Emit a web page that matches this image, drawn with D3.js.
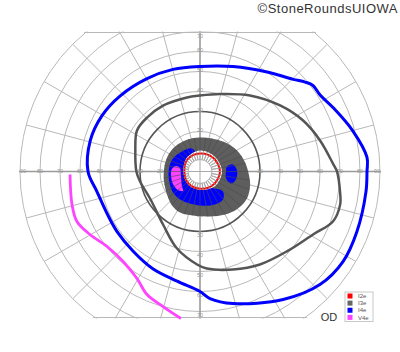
<!DOCTYPE html>
<html>
<head>
<meta charset="utf-8">
<script src="https://cdn.jsdelivr.net/npm/d3@7"></script>
<style>
body { margin: 0; background: #fff; }
svg { display: block; font-family: "Liberation Sans", Arial, sans-serif; }
</style>
</head>
<body>
<script>
// grid
const rings = [10, 20, 30, 40, 50, 60, 70, 80, 90];
const meridians = d3.range(0, 360, 15);
const hLabels = [20, 30, 40, 50, 60, 70, 80, 90];
const vLabels = [20, 30, 40, 50, 60, 70];
const fieldTop = 69.5, fieldBottom = 73;

// isopters: [meridian angle (deg, ccw from right), eccentricity (deg)]
const i2e = [[0, 10], [45, 9.5], [90, 9], [135, 8.7], [180, 7.8], [225, 8.3], [270, 8.6], [315, 9.4]];
const i3eLine = [[0, 68.5], [3.4, 66.6], [14.5, 62], [26.3, 57.5], [39.5, 51.9], [56.7, 45.5], [75.6, 40], [90, 38],
  [100, 37.6], [119.3, 37.8], [134.5, 37.8], [146.9, 37.6], [162, 34], [180, 31.8], [189.5, 30.4], [208.4, 28.4],
  [235.1, 32.3], [253.4, 40.2], [268.2, 46.5], [274, 48.6], [288.6, 51.7], [302.8, 55.3], [317.4, 59], [330.9, 64.7],
  [339.4, 71], [346.7, 72], [351.9, 70.7]];
const i3eArea = [[11.3, 23], [29.6, 21.3], [52.5, 18.9], [90, 17], [115.8, 17.2], [137.3, 17.7], [157, 17.9],
  [175.2, 18], [194, 18.6], [214.9, 20.1], [230.5, 22], [244, 22.8], [261, 22.3], [282.5, 23], [300.2, 24.9],
  [315.8, 26.5], [330.1, 27.1], [344.4, 26], [355.3, 24.6]];
const i4eLine = [[0, 83.5], [4.8, 83.8], [15, 79], [25.7, 73.8], [32.5, 71.2], [37.3, 71], [40.4, 69], [44.7, 65.5],
  [56, 60], [72.5, 55], [90, 52.5], [104.8, 52.8], [119.7, 53.5], [136.5, 55], [150.3, 56.4], [164.3, 57], [180, 56],
  [191, 52.5], [204.8, 51], [215.9, 51.2], [230, 52], [244.1, 54], [258.2, 56], [270, 60], [274.5, 63.7], [284, 68],
  [303, 76.3], [316.7, 82.4], [327.8, 84.5], [339.1, 84], [353.1, 83.6]];
const i4eArea = [[109, 12.2], [132, 13.5], [154.3, 15], [174.5, 15.6], [196.2, 16.1], [217.9, 17.1], [238.2, 17.1],
  [270, 17], [294.4, 18.1], [309.4, 18.1], [319, 15.2], [306, 10.2], [270, 7.5], [222.5, 7.5], [183.6, 7],
  [132.7, 8], [103.4, 9.5]];
const i4eSpot = [[10.5, 13.7], [12, 16.9], [1.5, 18.5], [347.5, 18.4], [338.8, 16.6], [344.9, 13.5], [0, 13]];
const v4eLine = [[181.3, 65], [194.5, 66.1], [202.1, 66.4], [209.8, 63.4], [218.9, 59.7], [229.5, 59.2],
  [239.5, 62.1], [246.7, 67], [254.7, 70], [262.6, 74.1]];
const v4eArea = [[167.1, 12.3], [170.1, 10.2], [193.3, 9.8], [218.9, 11.6], [228.9, 12.9], [220.1, 14.4],
  [204.8, 14.9], [186.9, 14.6], [174.9, 14.1]];
const centreHole = [[0, 11], [45, 10.5], [90, 10.5], [135, 9.5], [180, 8.3], [225, 8.8], [270, 9.2], [315, 10.5]];
const innerRing = 6;
const hatchAngles = d3.range(0, 360, 10);

const legendKeys = ["I2e", "I3e", "I4e", "V4e"];
const legendColors = ["#ff0000", "#666666", "#0000ff", "#ff44ff"];

const width = 400, height = 352;
const cx = 200, cy = 171.5;
const r = d3.scaleLinear().domain([0, 90]).range([0, 180]);
const rad = a => a * Math.PI / 180;
const px = (a, e) => cx + r(e) * Math.cos(rad(a));
const py = (a, e) => cy - r(e) * Math.sin(rad(a));
const yTop = cy - r(fieldTop), yBottom = cy + r(fieldBottom);

const svg = d3.select("body").append("svg").attr("width", width).attr("height", height);
const defs = svg.append("defs");
defs.append("clipPath").attr("id", "band").append("rect")
  .attr("x", 0).attr("y", yTop - 1).attr("width", width).attr("height", yBottom - yTop + 2);
defs.append("clipPath").attr("id", "disc").append("circle")
  .attr("cx", cx).attr("cy", cy).attr("r", r(90) + 1);

const field = svg.append("g").attr("clip-path", "url(#band)")
  .append("g").attr("clip-path", "url(#disc)");

// meridians and rings
field.selectAll("line.meridian").data(meridians).enter().append("line")
  .attr("x1", cx).attr("y1", cy)
  .attr("x2", d => px(d, 90)).attr("y2", d => py(d, 90))
  .attr("stroke", "#b8b8b8").attr("stroke-width", 1);
field.selectAll("circle.ring").data(rings).enter().append("circle")
  .attr("cx", cx).attr("cy", cy).attr("r", d => r(d))
  .attr("fill", "none")
  .attr("stroke", d => d == 30 ? "#555" : "#b8b8b8")
  .attr("stroke-width", d => d == 30 ? 1.6 : 1);
field.append("line").attr("x1", 0).attr("x2", width).attr("y1", cy).attr("y2", cy)
  .attr("stroke", "#9a9a9a").attr("stroke-width", 1.4);
field.append("line").attr("x1", cx).attr("x2", cx).attr("y1", 0).attr("y2", height)
  .attr("stroke", "#9a9a9a").attr("stroke-width", 1.4);
field.selectAll("line.edge").data([yTop, yBottom]).enter().append("line")
  .attr("x1", 0).attr("x2", width).attr("y1", d => d).attr("y2", d => d)
  .attr("stroke", "#b8b8b8").attr("stroke-width", 1.2);

// ring labels
const lab = field.append("g").attr("font-size", 5.5).attr("fill", "#999").attr("text-anchor", "middle");
lab.selectAll("text.left").data(hLabels).enter().append("text")
  .attr("x", d => Math.max(cx - r(d), 23)).attr("y", cy).attr("dy", "0.35em").text(d => d);
lab.selectAll("text.right").data(hLabels).enter().append("text")
  .attr("x", d => Math.min(cx + r(d), 377)).attr("y", cy).attr("dy", "0.35em").text(d => d);
lab.selectAll("text.top").data(vLabels).enter().append("text")
  .attr("x", cx).attr("y", d => Math.max(cy - r(d), yTop + 5)).text(d => d);
lab.selectAll("text.bottom").data(vLabels).enter().append("text")
  .attr("x", cx).attr("y", d => cy + r(d) + 5.5).text(d => d);

// central stimulus areas
const plot = svg.append("g").attr("transform", `translate(${cx},${cy})`);
const closed = d3.lineRadial()
  .angle(d => rad(90 - d[0]))
  .radius(d => r(d[1]))
  .curve(d3.curveCatmullRomClosed.alpha(0.5));
const open = d3.lineRadial()
  .angle(d => rad(90 - d[0]))
  .radius(d => r(d[1]))
  .curve(d3.curveCatmullRom.alpha(0.5));

defs.append("clipPath").attr("id", "blobClip").append("path")
  .attr("transform", `translate(${cx},${cy})`).attr("d", closed(i3eArea));
defs.append("clipPath").attr("id", "holeClip").append("path")
  .attr("transform", `translate(${cx},${cy})`).attr("d", closed(centreHole));

plot.append("path").attr("d", closed(i3eArea)).attr("fill", "#5e5e5e");
svg.append("g").attr("clip-path", "url(#blobClip)")
  .selectAll("line").data(hatchAngles).enter().append("line")
  .attr("x1", d => px(d, innerRing)).attr("y1", d => py(d, innerRing))
  .attr("x2", d => px(d, 30)).attr("y2", d => py(d, 30))
  .attr("stroke", "#4c4c4c").attr("stroke-width", 0.6);
plot.append("path").attr("d", closed(i4eArea)).attr("fill", "#0000ff");
plot.append("path").attr("d", closed(i4eSpot)).attr("fill", "#0000ff");
plot.append("path").attr("d", closed(v4eArea)).attr("fill", "#ff44ff");
plot.append("path").attr("d", closed(centreHole)).attr("fill", "#fff");

const hatch = svg.append("g").attr("clip-path", "url(#holeClip)");
hatch.selectAll("line").data(hatchAngles).enter().append("line")
  .attr("x1", d => px(d, innerRing)).attr("y1", d => py(d, innerRing))
  .attr("x2", d => px(d, 14)).attr("y2", d => py(d, 14))
  .attr("stroke", "#b0b0b0").attr("stroke-width", 0.7);
hatch.append("circle").attr("cx", cx).attr("cy", cy).attr("r", r(innerRing))
  .attr("fill", "#fff").attr("stroke", "#aaa").attr("stroke-width", 1);
hatch.append("line").attr("x1", cx - r(innerRing)).attr("x2", cx + r(innerRing)).attr("y1", cy).attr("y2", cy)
  .attr("stroke", "#aaa");
hatch.append("line").attr("y1", cy - r(innerRing)).attr("y2", cy + r(innerRing)).attr("x1", cx).attr("x2", cx)
  .attr("stroke", "#aaa");

// isopter lines
plot.append("path").attr("d", closed(i2e)).attr("fill", "none").attr("stroke", "#ff0000").attr("stroke-width", 2);
plot.append("path").attr("d", closed(i3eLine)).attr("fill", "none").attr("stroke", "#555").attr("stroke-width", 2.5);
plot.append("path").attr("d", closed(i4eLine)).attr("fill", "none").attr("stroke", "#0000ff").attr("stroke-width", 3);
plot.append("path").attr("d", open(v4eLine))
  .attr("fill", "none").attr("stroke", "#ff44ff").attr("stroke-width", 2.8);

// legend
const ly = d3.scaleBand().domain(legendKeys).range([292.5, 321]);
const legend = svg.append("g");
legend.append("rect").attr("x", 345).attr("y", 292).attr("width", 28).attr("height", 29.5)
  .attr("fill", "#fff").attr("stroke", "#c8c8c8").attr("stroke-width", 1);
legend.selectAll("rect.key").data(legendKeys).enter().append("rect")
  .attr("x", 347.5).attr("y", d => ly(d) + 1).attr("width", 5).attr("height", 5)
  .attr("fill", (d, i) => legendColors[i]);
legend.selectAll("text").data(legendKeys).enter().append("text")
  .attr("x", 358).attr("y", d => ly(d) + ly.bandwidth() / 2).attr("dy", "0.35em")
  .attr("font-size", 6).attr("fill", "#555").text(d => d);

svg.append("text").attr("x", 329).attr("y", 321).attr("text-anchor", "middle")
  .attr("font-size", 11).attr("fill", "#333").text("OD");
svg.append("text").attr("x", 398).attr("y", 12.5).attr("text-anchor", "end")
  .attr("font-size", 13).attr("letter-spacing", 0.5).attr("fill", "#333").text("©StoneRoundsUIOWA");
</script>
</body>
</html>
